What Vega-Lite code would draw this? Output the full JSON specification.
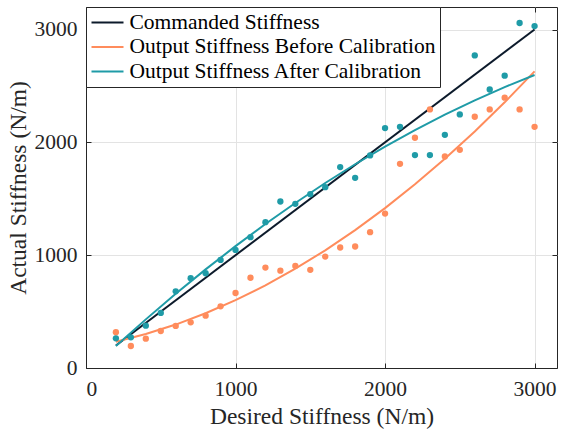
{
  "$schema": "https://vega.github.io/schema/vega-lite/v6.json",
  "autosize": "none",
  "padding": {"left": 86, "top": 7, "right": 6, "bottom": 62},
  "width": 471,
  "height": 361,
  "background": "white",
  "config": {
    "view": {"stroke": "#262626", "strokeWidth": 1},
    "axis": {
      "labelFont": "Liberation Serif", "titleFont": "Liberation Serif",
      "labelFontSize": 21.5, "titleFontSize": 23.5, "titleFontWeight": "normal",
      "labelColor": "#262626", "titleColor": "#262626",
      "domainColor": "#262626", "tickColor": "#262626", "tickSize": -5,
      "gridColor": "#e3e3e3", "gridWidth": 1, "format": "d"
    },
    "legend": {
      "orient": "none", "legendX": 0, "legendY": 0,
      "symbolType": "M-1,0H2.2", "symbolSize": 400, "symbolStrokeWidth": 2,
      "labelFont": "Liberation Serif", "labelFontSize": 21.5, "labelColor": "#000",
      "strokeColor": "#262626", "fillColor": "white", "padding": 4.5,
      "rowPadding": 2.5, "labelOffset": 17, "labelLimit": 500, "cornerRadius": 0
    }
  },
  "datasets": {
    "fits": [
      {"series": "Commanded Stiffness", "x": 200, "y": 200},
      {"series": "Commanded Stiffness", "x": 3000, "y": 3000},
      {"series": "Output Stiffness Before Calibration", "x": 200, "y": 233},
      {"series": "Output Stiffness Before Calibration", "x": 400, "y": 301},
      {"series": "Output Stiffness Before Calibration", "x": 600, "y": 385},
      {"series": "Output Stiffness Before Calibration", "x": 800, "y": 485},
      {"series": "Output Stiffness Before Calibration", "x": 1000, "y": 601},
      {"series": "Output Stiffness Before Calibration", "x": 1200, "y": 732},
      {"series": "Output Stiffness Before Calibration", "x": 1400, "y": 880},
      {"series": "Output Stiffness Before Calibration", "x": 1600, "y": 1043},
      {"series": "Output Stiffness Before Calibration", "x": 1800, "y": 1222},
      {"series": "Output Stiffness Before Calibration", "x": 2000, "y": 1417},
      {"series": "Output Stiffness Before Calibration", "x": 2200, "y": 1628},
      {"series": "Output Stiffness Before Calibration", "x": 2400, "y": 1854},
      {"series": "Output Stiffness Before Calibration", "x": 2600, "y": 2096},
      {"series": "Output Stiffness Before Calibration", "x": 2800, "y": 2355},
      {"series": "Output Stiffness Before Calibration", "x": 3000, "y": 2629},
      {"series": "Output Stiffness After Calibration", "x": 200, "y": 195},
      {"series": "Output Stiffness After Calibration", "x": 400, "y": 431},
      {"series": "Output Stiffness After Calibration", "x": 600, "y": 658},
      {"series": "Output Stiffness After Calibration", "x": 800, "y": 874},
      {"series": "Output Stiffness After Calibration", "x": 1000, "y": 1080},
      {"series": "Output Stiffness After Calibration", "x": 1200, "y": 1277},
      {"series": "Output Stiffness After Calibration", "x": 1400, "y": 1463},
      {"series": "Output Stiffness After Calibration", "x": 1600, "y": 1640},
      {"series": "Output Stiffness After Calibration", "x": 1800, "y": 1806},
      {"series": "Output Stiffness After Calibration", "x": 2000, "y": 1963},
      {"series": "Output Stiffness After Calibration", "x": 2200, "y": 2109},
      {"series": "Output Stiffness After Calibration", "x": 2400, "y": 2246},
      {"series": "Output Stiffness After Calibration", "x": 2600, "y": 2373},
      {"series": "Output Stiffness After Calibration", "x": 2800, "y": 2490},
      {"series": "Output Stiffness After Calibration", "x": 3000, "y": 2597}
    ],
    "pts": [
      {"series": "Output Stiffness Before Calibration", "x": 200, "y": 317},
      {"series": "Output Stiffness Before Calibration", "x": 300, "y": 195},
      {"series": "Output Stiffness Before Calibration", "x": 400, "y": 260},
      {"series": "Output Stiffness Before Calibration", "x": 500, "y": 328},
      {"series": "Output Stiffness Before Calibration", "x": 600, "y": 373},
      {"series": "Output Stiffness Before Calibration", "x": 700, "y": 405},
      {"series": "Output Stiffness Before Calibration", "x": 800, "y": 464},
      {"series": "Output Stiffness Before Calibration", "x": 900, "y": 547},
      {"series": "Output Stiffness Before Calibration", "x": 1000, "y": 665},
      {"series": "Output Stiffness Before Calibration", "x": 1100, "y": 800},
      {"series": "Output Stiffness Before Calibration", "x": 1200, "y": 890},
      {"series": "Output Stiffness Before Calibration", "x": 1300, "y": 863},
      {"series": "Output Stiffness Before Calibration", "x": 1400, "y": 905},
      {"series": "Output Stiffness Before Calibration", "x": 1500, "y": 870},
      {"series": "Output Stiffness Before Calibration", "x": 1600, "y": 988},
      {"series": "Output Stiffness Before Calibration", "x": 1700, "y": 1068},
      {"series": "Output Stiffness Before Calibration", "x": 1800, "y": 1077},
      {"series": "Output Stiffness Before Calibration", "x": 1900, "y": 1204},
      {"series": "Output Stiffness Before Calibration", "x": 2000, "y": 1369},
      {"series": "Output Stiffness Before Calibration", "x": 2100, "y": 1810},
      {"series": "Output Stiffness Before Calibration", "x": 2200, "y": 2041},
      {"series": "Output Stiffness Before Calibration", "x": 2300, "y": 2292},
      {"series": "Output Stiffness Before Calibration", "x": 2400, "y": 1875},
      {"series": "Output Stiffness Before Calibration", "x": 2500, "y": 1934},
      {"series": "Output Stiffness Before Calibration", "x": 2600, "y": 2227},
      {"series": "Output Stiffness Before Calibration", "x": 2700, "y": 2292},
      {"series": "Output Stiffness Before Calibration", "x": 2800, "y": 2396},
      {"series": "Output Stiffness Before Calibration", "x": 2900, "y": 2292},
      {"series": "Output Stiffness Before Calibration", "x": 3000, "y": 2138},
      {"series": "Output Stiffness After Calibration", "x": 200, "y": 263},
      {"series": "Output Stiffness After Calibration", "x": 300, "y": 272},
      {"series": "Output Stiffness After Calibration", "x": 400, "y": 375},
      {"series": "Output Stiffness After Calibration", "x": 500, "y": 488},
      {"series": "Output Stiffness After Calibration", "x": 600, "y": 680},
      {"series": "Output Stiffness After Calibration", "x": 700, "y": 796},
      {"series": "Output Stiffness After Calibration", "x": 800, "y": 840},
      {"series": "Output Stiffness After Calibration", "x": 900, "y": 958},
      {"series": "Output Stiffness After Calibration", "x": 1000, "y": 1047},
      {"series": "Output Stiffness After Calibration", "x": 1100, "y": 1160},
      {"series": "Output Stiffness After Calibration", "x": 1200, "y": 1293},
      {"series": "Output Stiffness After Calibration", "x": 1300, "y": 1476},
      {"series": "Output Stiffness After Calibration", "x": 1400, "y": 1455},
      {"series": "Output Stiffness After Calibration", "x": 1500, "y": 1541},
      {"series": "Output Stiffness After Calibration", "x": 1600, "y": 1603},
      {"series": "Output Stiffness After Calibration", "x": 1700, "y": 1781},
      {"series": "Output Stiffness After Calibration", "x": 1800, "y": 1686},
      {"series": "Output Stiffness After Calibration", "x": 1900, "y": 1884},
      {"series": "Output Stiffness After Calibration", "x": 2000, "y": 2127},
      {"series": "Output Stiffness After Calibration", "x": 2100, "y": 2138},
      {"series": "Output Stiffness After Calibration", "x": 2200, "y": 1887},
      {"series": "Output Stiffness After Calibration", "x": 2300, "y": 1887},
      {"series": "Output Stiffness After Calibration", "x": 2400, "y": 2067},
      {"series": "Output Stiffness After Calibration", "x": 2500, "y": 2248},
      {"series": "Output Stiffness After Calibration", "x": 2600, "y": 2771},
      {"series": "Output Stiffness After Calibration", "x": 2700, "y": 2469},
      {"series": "Output Stiffness After Calibration", "x": 2800, "y": 2591},
      {"series": "Output Stiffness After Calibration", "x": 2900, "y": 3058},
      {"series": "Output Stiffness After Calibration", "x": 3000, "y": 3031}
    ]
  },
  "resolve": {"axis": {"x": "independent", "y": "independent"}},
  "layer": [
    {
      "layer": [
        {
          "data": {"name": "fits"},
          "mark": {"type": "line", "strokeWidth": 2},
          "encoding": {
            "x": {"field": "x", "type": "quantitative", "scale": {"domain": [0, 3150], "nice": false},
                  "axis": {"values": [0, 1000, 2000, 3000], "title": "Desired Stiffness (N/m)", "labelPadding": 15, "titlePadding": 5}},
            "y": {"field": "y", "type": "quantitative", "scale": {"domain": [0, 3200], "nice": false},
                  "axis": {"values": [0, 1000, 2000, 3000], "title": "Actual Stiffness (N/m)", "labelPadding": 14, "titlePadding": 4}},
            "color": {"field": "series", "type": "nominal",
                      "scale": {"domain": ["Commanded Stiffness", "Output Stiffness Before Calibration", "Output Stiffness After Calibration"],
                                "range": ["#0c1a2b", "#ff8c5c", "#1f9ba7"]},
                      "legend": {"title": null}},
            "detail": {"field": "series"}
          }
        },
        {
          "data": {"name": "pts"},
          "mark": {"type": "circle", "size": 40, "opacity": 1},
          "encoding": {
            "x": {"field": "x", "type": "quantitative"},
            "y": {"field": "y", "type": "quantitative"},
            "color": {"field": "series", "type": "nominal", "legend": null}
          }
        }
      ]
    },
    {
      "data": {"name": "fits"},
      "mark": {"type": "point", "opacity": 0},
      "encoding": {
        "x": {"field": "x", "type": "quantitative",
              "axis": {"orient": "top", "values": [0, 1000, 2000, 3000], "labels": false, "grid": false, "domain": false, "title": null}},
        "y": {"field": "y", "type": "quantitative",
              "axis": {"orient": "right", "values": [0, 1000, 2000, 3000], "labels": false, "grid": false, "domain": false, "title": null}}
      }
    }
  ]
}
